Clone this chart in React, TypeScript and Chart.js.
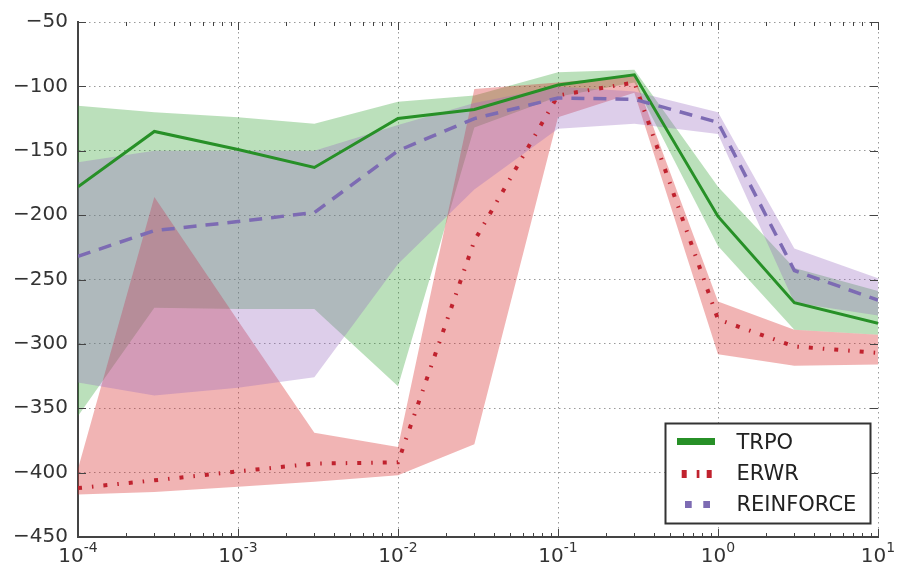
import React, { useEffect, useRef } from 'react';
import { Chart, registerables } from 'chart.js';

Chart.register(...registerables);

// ---------- data ----------
const xValues = [1e-4, 3e-4, 1e-3, 3e-3, 1e-2, 3e-2, 1e-1, 3e-1, 1, 3, 10];

const trpoMean = [-178, -135, -149, -163, -125, -118, -99, -91, -201, -268, -284];
const trpoUpper = [-115, -120, -124, -129, -112, -107, -89, -87, -178, -241, -259];
const trpoLower = [-356, -272, -273, -273, -333, -132, -108, -97, -224, -289, -293];

const erwrMean = [-412, -406, -399, -393, -392, -220, -107, -97, -281, -302, -307];
const erwrUpper = [-397, -186, -282, -369, -380, -102, -97, -92, -267, -289, -293];
const erwrLower = [-417, -415, -411, -407, -402, -378, -124, -105, -308, -317, -316];

const reinforceMean = [-232, -212, -205, -198, -150, -125, -109, -110, -128, -243, -266];
const reinforceUpper = [-159, -150, -150, -150, -130, -113, -100, -104, -120, -226, -249];
const reinforceLower = [-330, -340, -334, -326, -238, -180, -133, -129, -137, -268, -278];

const seriesNames = ['TRPO', 'ERWR', 'REINFORCE'];
const yMin = -450;
const yMax = -50;
const yStep = 50;
const xMin = 1e-4;
const xMax = 10;
const xTickExponents = [-4, -3, -2, -1, 0, 1];

// ---------- styles ----------
const FONT = '"DejaVu Sans", sans-serif';
const trpoColor = '#279027';
const erwrColor = '#c0222e';
const reinforceColor = '#7d6bb3';
const trpoFill = 'rgba(44,160,44,0.32)';
const erwrFill = 'rgba(214,39,40,0.35)';
const reinforceFill = 'rgba(148,103,189,0.32)';
const erwrDash = [4, 10, 1.5, 10];
const reinforceDash = [13, 9];
const gridColor = '#9a9a9a';

const pts = (ys: number[]) => xValues.map((x, i) => ({ x, y: ys[i] }));

const bandSets = (lower: number[], upper: number[], color: string, name: string) => [
  {
    label: name + ' lower',
    data: pts(lower),
    borderColor: 'rgba(0,0,0,0)',
    borderWidth: 0,
    pointRadius: 0,
    fill: false,
  },
  {
    label: name + ' upper',
    data: pts(upper),
    borderColor: 'rgba(0,0,0,0)',
    borderWidth: 0,
    pointRadius: 0,
    fill: '-1',
    backgroundColor: color,
  },
];

const isDecade = (v: number | undefined) => {
  if (v === undefined || v <= 0) return false;
  const l = Math.log10(v);
  return Math.abs(l - Math.round(l)) < 1e-6;
};

const tickMarksPlugin = {
  id: 'tickMarks',
  afterDraw(chart: any) {
    const { ctx, chartArea } = chart;
    const sx = chart.scales.x;
    const sy = chart.scales.y;
    ctx.save();
    ctx.strokeStyle = '#444';
    ctx.lineWidth = 1;
    ctx.beginPath();
    for (let e = -4; e <= 1; e++) {
      for (let k = 1; k <= 9; k++) {
        const v = k * Math.pow(10, e);
        if (v < xMin * 0.999 || v > xMax * 1.001) continue;
        const px = Math.round(sx.getPixelForValue(v)) + 0.5;
        const len = k === 1 ? 8 : 4;
        ctx.moveTo(px, chartArea.bottom);
        ctx.lineTo(px, chartArea.bottom - len);
        ctx.moveTo(px, chartArea.top);
        ctx.lineTo(px, chartArea.top + len);
      }
    }
    for (let v = yMin; v <= yMax; v += yStep) {
      const py = Math.round(sy.getPixelForValue(v)) + 0.5;
      ctx.moveTo(chartArea.left, py);
      ctx.lineTo(chartArea.left + 8, py);
      ctx.moveTo(chartArea.right, py);
      ctx.lineTo(chartArea.right - 8, py);
    }
    ctx.stroke();
    ctx.restore();
  },
};

const xLabelPlugin = {
  id: 'xLabels',
  afterDraw(chart: any) {
    const { ctx } = chart;
    const sx = chart.scales.x;
    ctx.save();
    ctx.fillStyle = '#333';
    ctx.textBaseline = 'alphabetic';
    ctx.textAlign = 'left';
    xTickExponents.forEach((e) => {
      const px = sx.getPixelForValue(Math.pow(10, e));
      const base = '10';
      const sup = e < 0 ? '-' + Math.abs(e) : String(e);
      ctx.font = '20px ' + FONT;
      const w1 = ctx.measureText(base).width;
      ctx.font = '14px ' + FONT;
      const w2 = ctx.measureText(sup).width;
      const start = px - (w1 + w2) / 2;
      ctx.font = '20px ' + FONT;
      ctx.fillText(base, start, 562);
      ctx.font = '14px ' + FONT;
      ctx.fillText(sup, start + w1, 552);
    });
    ctx.restore();
  },
};

const legendPlugin = {
  id: 'customLegend',
  afterDraw(chart: any) {
    const { ctx } = chart;
    const bx = 665.5;
    const by = 423.5;
    const bw = 205;
    const bh = 100;
    ctx.save();
    ctx.fillStyle = '#ffffff';
    ctx.fillRect(bx, by, bw, bh);
    ctx.strokeStyle = '#333';
    ctx.lineWidth = 2;
    ctx.strokeRect(bx, by, bw, bh);

    ctx.lineCap = 'butt';
    // TRPO
    ctx.strokeStyle = trpoColor;
    ctx.lineWidth = 7;
    ctx.setLineDash([]);
    ctx.beginPath();
    ctx.moveTo(677, 441.5);
    ctx.lineTo(715, 441.5);
    ctx.stroke();
    // ERWR
    ctx.strokeStyle = erwrColor;
    ctx.lineWidth = 8;
    ctx.setLineDash([5, 10, 2.7, 7.3, 5, 100]);
    ctx.beginPath();
    ctx.moveTo(681.7, 474);
    ctx.lineTo(712, 474);
    ctx.stroke();
    // REINFORCE
    ctx.strokeStyle = reinforceColor;
    ctx.lineWidth = 7;
    ctx.setLineDash([6.7, 11.6, 6.7, 100]);
    ctx.beginPath();
    ctx.moveTo(685, 504.5);
    ctx.lineTo(711, 504.5);
    ctx.stroke();
    ctx.setLineDash([]);

    ctx.fillStyle = '#222';
    ctx.font = '21px ' + FONT;
    ctx.textAlign = 'left';
    ctx.textBaseline = 'alphabetic';
    const baselines = [448.5, 480, 510.5];
    seriesNames.forEach((n, i) => ctx.fillText(n, 736.5, baselines[i]));
    ctx.restore();
  },
};

export default function App() {
  const ref = useRef<HTMLCanvasElement>(null);

  useEffect(() => {
    if (!ref.current) return;
    const datasets: any[] = [
      ...bandSets(reinforceLower, reinforceUpper, reinforceFill, 'REINFORCE'),
      ...bandSets(erwrLower, erwrUpper, erwrFill, 'ERWR'),
      ...bandSets(trpoLower, trpoUpper, trpoFill, 'TRPO'),
      {
        label: 'REINFORCE',
        data: pts(reinforceMean),
        borderColor: reinforceColor,
        borderWidth: 3.5,
        borderDash: reinforceDash,
        pointRadius: 0,
        fill: false,
      },
      {
        label: 'ERWR',
        data: pts(erwrMean),
        borderColor: erwrColor,
        borderWidth: 4,
        borderDash: erwrDash,
        borderCapStyle: 'butt',
        pointRadius: 0,
        fill: false,
      },
      {
        label: 'TRPO',
        data: pts(trpoMean),
        borderColor: trpoColor,
        borderWidth: 3,
        pointRadius: 0,
        fill: false,
      },
    ];

    const chart = new Chart(ref.current, {
      type: 'line',
      data: { datasets },
      options: {
        responsive: false,
        animation: false,
        layout: { padding: { left: 0, right: 20, top: 19, bottom: 0 } },
        plugins: {
          legend: { display: false },
          tooltip: { enabled: false },
          filler: { drawTime: 'beforeDatasetsDraw' },
        },
        elements: { line: { tension: 0 } },
        scales: {
          x: {
            type: 'logarithmic',
            min: xMin,
            max: xMax,
            ticks: { display: false },
            grid: {
              drawTicks: false,
              lineWidth: 1,
              color: (c: any) => (isDecade(c.tick && c.tick.value) ? gridColor : 'rgba(0,0,0,0)'),
            },
            border: { display: true, color: '#444', width: 2, dash: [1.5, 3.5] },
            afterFit: (s: any) => {
              s.height = 28;
            },
          },
          y: {
            type: 'linear',
            min: yMin,
            max: yMax,
            ticks: {
              stepSize: yStep,
              padding: 10,
              color: '#333',
              font: { family: FONT, size: 20 },
              callback: (v: any) => String(v).replace('-', '\u2212'),
            },
            grid: { drawTicks: false, lineWidth: 1, color: gridColor },
            border: { display: true, color: '#444', width: 2, dash: [1.5, 3.5] },
            afterFit: (s: any) => {
              s.width = 78;
            },
          },
        },
      },
      plugins: [tickMarksPlugin, xLabelPlugin, legendPlugin],
    } as any);

    return () => chart.destroy();
  }, []);

  return (
    <div style={{ position: 'absolute', left: 0, top: 0, width: 898, height: 565 }}>
      <canvas ref={ref} width={898} height={565} style={{ display: 'block' }} />
    </div>
  );
}
